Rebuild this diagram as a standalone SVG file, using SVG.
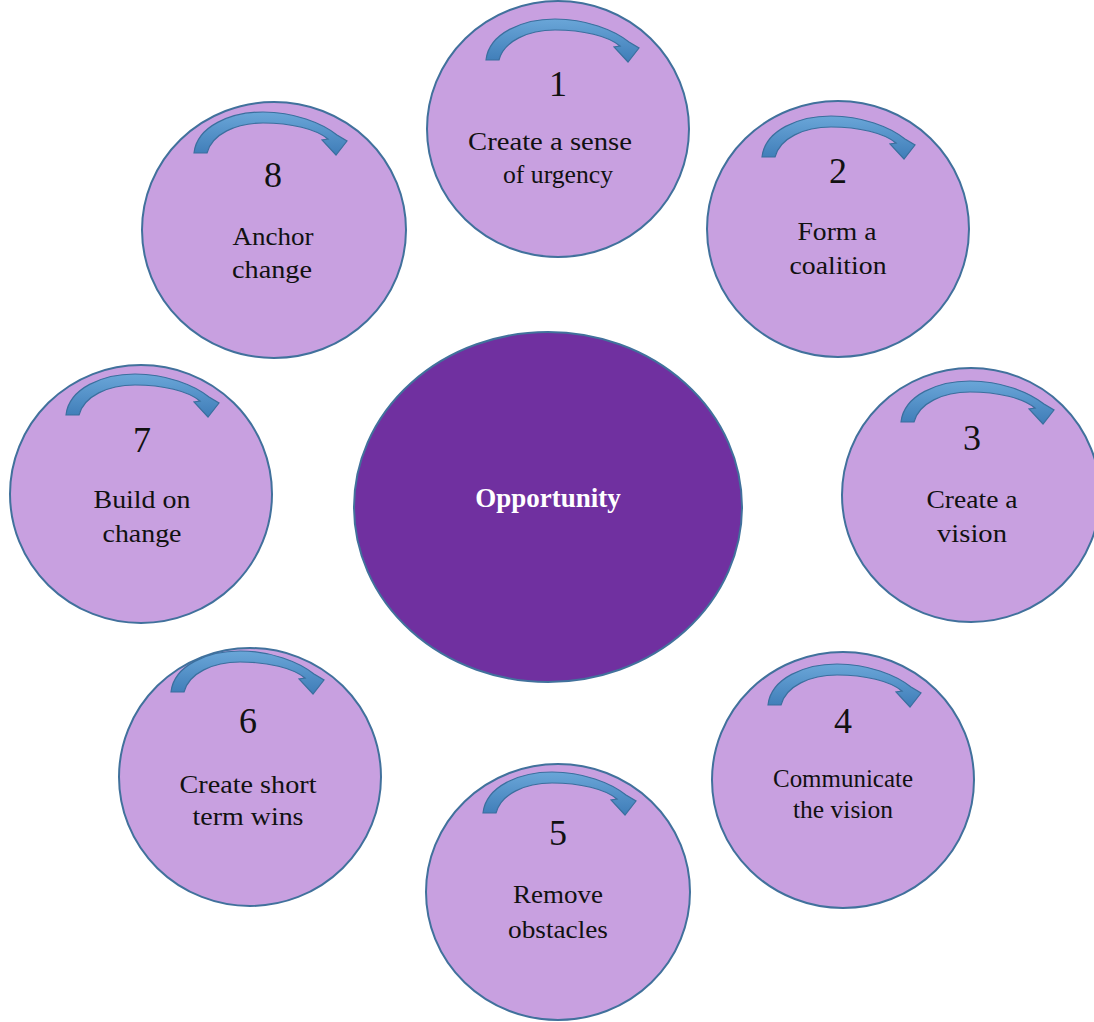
<svg xmlns="http://www.w3.org/2000/svg" xmlns:xlink="http://www.w3.org/1999/xlink" width="1094" height="1022" viewBox="0 0 1094 1022">
<defs>
<linearGradient id="ag" x1="0" y1="0" x2="0" y2="1">
<stop offset="0" stop-color="#6aa6d8"/>
<stop offset="1" stop-color="#3f7db8"/>
</linearGradient>
<path id="arrow" d="M -72,-69 C -69,-96 -35,-110 -3,-110 C 28,-110 56,-99 71,-87 L 81,-81 L 70,-67 L 56,-82 L 62,-83 C 50,-93 25,-99 -3,-99 C -30,-99 -54,-88 -59,-69 Z"/>
</defs>
<style>
.step{fill:#c8a0e0;stroke:#41719c;stroke-width:2}
.hub{fill:#7030a0;stroke:#41719c;stroke-width:2}
.arr{fill:url(#ag);stroke:#3a6f9e;stroke-width:1.2}
.num{font-family:"Liberation Serif","Times New Roman",serif;font-size:36px;fill:#111;text-anchor:middle}
.lbl{font-family:"Liberation Serif","Times New Roman",serif;font-size:26px;fill:#111;text-anchor:middle}
.hubt{font-family:"Liberation Serif","Times New Roman",serif;font-size:27px;font-weight:bold;fill:#fff;text-anchor:middle}
</style>
<rect width="1094" height="1022" fill="#fff"/>
<g id="hub">
<ellipse class="hub" cx="548" cy="507" rx="194" ry="175"/>
<text class="hubt" x="548" y="507">Opportunity</text>
</g>
<g id="step1">
<ellipse class="step" cx="558" cy="129" rx="131" ry="128"/>
<use xlink:href="#arrow" class="arr" transform="translate(558,129)"/>
<text class="num" x="558" y="96">1</text>
<text class="lbl" x="550" y="150" textLength="164" lengthAdjust="spacingAndGlyphs">Create a sense</text>
<text class="lbl" x="558" y="183" textLength="110" lengthAdjust="spacingAndGlyphs">of urgency</text>
</g>
<g id="step2">
<ellipse class="step" cx="838" cy="229" rx="131" ry="128"/>
<use xlink:href="#arrow" class="arr" transform="translate(834,226)"/>
<text class="num" x="838" y="183">2</text>
<text class="lbl" x="837" y="240" textLength="79" lengthAdjust="spacingAndGlyphs">Form a</text>
<text class="lbl" x="838" y="274" textLength="97" lengthAdjust="spacingAndGlyphs">coalition</text>
</g>
<g id="step3">
<ellipse class="step" cx="971" cy="495" rx="129" ry="127"/>
<use xlink:href="#arrow" class="arr" transform="translate(973,491)"/>
<text class="num" x="972" y="450">3</text>
<text class="lbl" x="972" y="508" textLength="91" lengthAdjust="spacingAndGlyphs">Create a</text>
<text class="lbl" x="972" y="542" textLength="70" lengthAdjust="spacingAndGlyphs">vision</text>
</g>
<g id="step4">
<ellipse class="step" cx="843" cy="780" rx="131" ry="128"/>
<use xlink:href="#arrow" class="arr" transform="translate(840,774)"/>
<text class="num" x="843" y="733">4</text>
<text class="lbl" x="843" y="787" textLength="140" lengthAdjust="spacingAndGlyphs">Communicate</text>
<text class="lbl" x="843" y="818" textLength="100" lengthAdjust="spacingAndGlyphs">the vision</text>
</g>
<g id="step5">
<ellipse class="step" cx="558" cy="892" rx="132" ry="128"/>
<use xlink:href="#arrow" class="arr" transform="translate(555,882)"/>
<text class="num" x="558" y="845">5</text>
<text class="lbl" x="558" y="903" textLength="90" lengthAdjust="spacingAndGlyphs">Remove</text>
<text class="lbl" x="558" y="938" textLength="100" lengthAdjust="spacingAndGlyphs">obstacles</text>
</g>
<g id="step6">
<ellipse class="step" cx="250" cy="777" rx="131" ry="129"/>
<use xlink:href="#arrow" class="arr" transform="translate(243,761)"/>
<text class="num" x="248" y="733">6</text>
<text class="lbl" x="248" y="793" textLength="137" lengthAdjust="spacingAndGlyphs">Create short</text>
<text class="lbl" x="248" y="825" textLength="111" lengthAdjust="spacingAndGlyphs">term wins</text>
</g>
<g id="step7">
<ellipse class="step" cx="141" cy="494" rx="131" ry="129"/>
<use xlink:href="#arrow" class="arr" transform="translate(138,484)"/>
<text class="num" x="142" y="452">7</text>
<text class="lbl" x="142" y="508" textLength="97" lengthAdjust="spacingAndGlyphs">Build on</text>
<text class="lbl" x="142" y="542" textLength="79" lengthAdjust="spacingAndGlyphs">change</text>
</g>
<g id="step8">
<ellipse class="step" cx="274" cy="230" rx="132" ry="128"/>
<use xlink:href="#arrow" class="arr" transform="translate(266,222)"/>
<text class="num" x="273" y="187">8</text>
<text class="lbl" x="273" y="245" textLength="81" lengthAdjust="spacingAndGlyphs">Anchor</text>
<text class="lbl" x="272" y="278" textLength="80" lengthAdjust="spacingAndGlyphs">change</text>
</g>
<g id="connectors"/>
</svg>
